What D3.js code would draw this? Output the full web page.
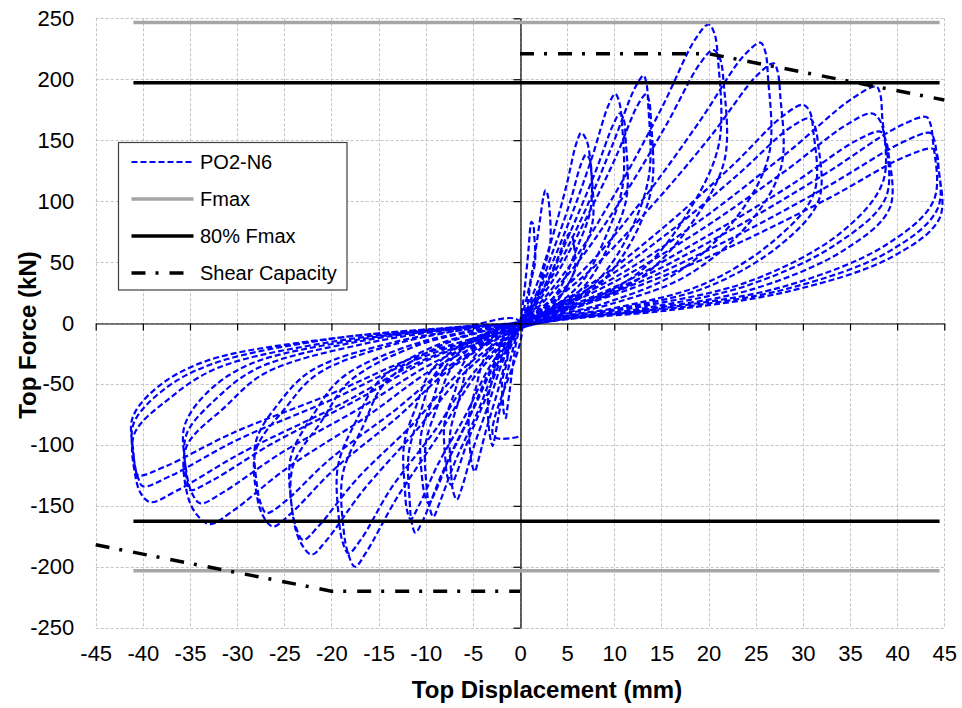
<!DOCTYPE html>
<html>
<head>
<meta charset="utf-8">
<script src="https://cdn.jsdelivr.net/npm/d3@7"></script>
<style>
  body { margin: 0; background: #fff; }
  svg { display: block; font-family: "Liberation Sans", Arial, sans-serif; }
</style>
</head>
<body>
<div id="chart"></div>
<script>
// tick values
var xTicks = [-45, -40, -35, -30, -25, -20, -15, -10, -5, 0, 5, 10, 15, 20, 25, 30, 35, 40, 45];
var yTicks = [-250, -200, -150, -100, -50, 0, 50, 100, 150, 200, 250];

// reference levels (kN) and the displacement range they are drawn over (mm)
var fmaxLevels = [246.5, -203.3];
var fmax80Levels = [197.2, -162.6];
var levelRange = [-41, 44.5];

// shear capacity envelope
var shearPos = [[0, 221], [20, 221], [45, 183]];
var shearNeg = [[-45, -182], [-20, -220], [0, -220]];

// PO2-N6 cyclic test, [displacement mm, force kN], one cycle per row
var cycles = [
  [[0.3,15],[0.6,36],[0.9,60],[1.1,79],[1.2,83],[1.4,81],[1.5,73],[1.6,50],[1.1,32],[0.8,15],[0.4,6],[0.1,0],[-0.4,-16],[-0.8,-37],[-1.1,-56],[-1.4,-73],[-1.5,-78],[-1.7,-74],[-1.8,-66],[-1.9,-48],[-1.4,-33],[-1.2,-20],[-0.8,-8],[-0.2,-2],[0,1]],
  [[0.7,20],[1.4,47],[2.0,78],[2.5,104],[2.7,109],[2.9,106],[3.1,96],[3.2,65],[2.4,41],[1.8,20],[0.9,8],[0.1,0],[-0.7,-20],[-1.5,-47],[-2.2,-73],[-2.7,-95],[-2.9,-101],[-3.1,-96],[-3.3,-86],[-3.4,-63],[-2.8,-42],[-2.4,-25],[-1.5,-10],[-0.4,-2],[0,1]],
  [[1.3,13],[2.7,32],[4.0,53],[4.9,70],[5.3,74],[5.5,72],[5.7,65],[5.8,44],[4.8,28],[3.4,13],[1.9,5],[0.3,0],[-1.2,-24],[-2.4,-57],[-3.6,-88],[-4.5,-115],[-4.8,-122],[-5.1,-116],[-5.3,-104],[-5.4,-76],[-4.6,-51],[-3.9,-31],[-2.4,-12],[-0.7,-2],[0,1]],
  [[1.6,28],[3.3,67],[4.9,112],[6.0,148],[6.5,156],[7.0,151],[7.4,137],[7.5,94],[5.9,59],[4.2,28],[2.3,11],[0.3,0],[-1.7,-29],[-3.4,-68],[-5.0,-104],[-6.2,-136],[-6.7,-145],[-7.1,-138],[-7.3,-123],[-7.4,-90],[-6.4,-61],[-5.5,-36],[-3.4,-15],[-1.0,-3],[0,1]],
  [[1.8,25],[3.5,59],[5.3,99],[6.5,131],[7.0,138],[7.4,134],[7.6,121],[7.7,83],[6.3,52],[4.6,25],[2.5,10],[0.4,0],[-1.8,-27],[-3.7,-63],[-5.5,-96],[-6.8,-125],[-7.3,-133],[-7.7,-126],[-7.9,-113],[-8.0,-82],[-6.9,-56],[-6.0,-33],[-3.7,-13],[-1.1,-3],[0,1]],
  [[2.5,34],[5.1,81],[7.6,135],[9.4,179],[10.1,188],[10.5,182],[10.8,165],[10.9,113],[9.1,71],[6.6,34],[3.5,13],[0.5,0],[-2.3,-32],[-4.6,-75],[-6.9,-114],[-8.6,-149],[-9.2,-159],[-9.6,-151],[-9.9,-135],[-10.0,-99],[-8.7,-67],[-7.5,-40],[-4.6,-16],[-1.4,-3],[0,1]],
  [[2.7,31],[5.3,74],[8.0,124],[9.9,163],[10.6,172],[11.0,167],[11.2,151],[11.3,103],[9.5,65],[6.9,31],[3.7,12],[0.5,0],[-2.4,-30],[-4.9,-70],[-7.3,-107],[-9.0,-139],[-9.7,-148],[-10.1,-141],[-10.4,-126],[-10.5,-92],[-9.2,-62],[-8.0,-37],[-4.9,-15],[-1.5,-3],[0,1]],
  [[3.3,37],[6.6,87],[9.8,146],[12.2,193],[13.1,203],[13.4,197],[13.6,179],[13.7,122],[11.8,77],[8.5,37],[4.6,14],[0.7,0],[-2.8,-34],[-5.6,-81],[-8.3,-124],[-10.3,-162],[-11.1,-172],[-11.5,-163],[-11.7,-146],[-11.8,-107],[-10.5,-72],[-9.1,-43],[-5.6,-17],[-1.7,-3],[0,1]],
  [[3.4,34],[6.7,81],[10.1,135],[12.5,179],[13.4,188],[13.7,182],[13.9,165],[14.0,113],[12.1,71],[8.7,34],[4.7,13],[0.7,0],[-2.9,-32],[-5.8,-76],[-8.7,-116],[-10.8,-151],[-11.6,-161],[-12.0,-153],[-12.2,-137],[-12.3,-100],[-11.0,-68],[-9.5,-40],[-5.8,-16],[-1.7,-3],[0,1]],
  [[5.0,44],[10.0,105],[15.0,176],[18.6,233],[20.0,245],[20.6,238],[21.0,216],[21.1,147],[18.0,93],[13.0,44],[7.0,17],[1.0,0],[-4.4,-40],[-8.8,-94],[-13.1,-144],[-16.3,-188],[-17.5,-200],[-18.2,-190],[-18.7,-170],[-18.8,-124],[-16.6,-84],[-14.4,-50],[-8.8,-20],[-2.6,-4],[0,1]],
  [[5.1,40],[10.3,96],[15.4,161],[19.1,213],[20.5,224],[21.2,217],[21.6,197],[21.7,134],[18.5,85],[13.3,40],[7.2,16],[1.0,0],[-4.6,-38],[-9.1,-89],[-13.7,-136],[-16.9,-178],[-18.2,-189],[-18.8,-180],[-19.2,-161],[-19.3,-117],[-17.3,-79],[-14.9,-47],[-9.1,-19],[-2.7,-4],[0,1]],
  [[6.4,41],[12.8,99],[19.1,166],[23.7,219],[25.5,230],[26.0,223],[26.3,202],[26.4,138],[23.0,87],[16.6,41],[8.9,16],[1.3,0],[-5.5,-38],[-11.1,-89],[-16.6,-137],[-20.6,-179],[-22.1,-190],[-23.2,-181],[-24.0,-162],[-24.1,-118],[-21.0,-80],[-18.1,-48],[-11.1,-19],[-3.3,-4],[0,1]],
  [[6.7,38],[13.5,92],[20.2,153],[25.0,202],[26.9,213],[27.3,207],[27.6,187],[27.7,128],[24.2,81],[17.5,38],[9.4,15],[1.3,0],[-5.8,-36],[-11.5,-84],[-17.3,-128],[-21.4,-167],[-23.0,-178],[-23.7,-169],[-24.2,-151],[-24.3,-110],[-21.9,-75],[-18.9,-45],[-11.5,-18],[-3.5,-4],[0,1]],
  [[7.5,32],[15.0,77],[22.5,129],[27.9,170],[30.0,179],[30.7,174],[31.1,158],[31.2,107],[27.0,68],[19.5,32],[10.5,13],[1.5,0],[-6.6,-33],[-13.1,-78],[-19.7,-120],[-24.4,-157],[-26.2,-167],[-27.2,-159],[-27.9,-142],[-28.0,-104],[-24.9,-70],[-21.5,-42],[-13.1,-17],[-3.9,-3],[0,1]],
  [[7.7,30],[15.4,72],[23.0,121],[28.6,160],[30.7,168],[31.2,163],[31.6,148],[31.7,101],[27.6,64],[20.0,30],[10.7,12],[1.5,0],[-6.7,-31],[-13.5,-73],[-20.2,-112],[-25.0,-147],[-26.9,-156],[-27.5,-148],[-27.9,-133],[-28.0,-97],[-25.6,-66],[-22.1,-39],[-13.5,-16],[-4.0,-3],[0,1]],
  [[9.5,35],[18.9,83],[28.4,140],[35.2,184],[37.8,194],[38.2,188],[38.4,171],[38.5,116],[34.0,74],[24.6,35],[13.2,14],[1.9,0],[-8.2,-33],[-16.5,-78],[-24.7,-119],[-30.6,-155],[-32.9,-165],[-34.3,-157],[-35.3,-140],[-35.4,-102],[-31.3,-69],[-27.0,-41],[-16.5,-17],[-4.9,-3],[0,1]],
  [[9.3,31],[18.7,74],[28.0,124],[34.7,163],[37.3,172],[38.1,167],[38.7,151],[38.8,103],[33.6,65],[24.2,31],[13.1,12],[1.9,0],[-8.5,-30],[-17.0,-70],[-25.4,-107],[-31.5,-139],[-33.9,-148],[-34.7,-141],[-35.3,-126],[-35.4,-92],[-32.2,-62],[-27.8,-37],[-17.0,-15],[-5.1,-3],[0,1]],
  [[9.6,28],[19.1,68],[28.7,113],[35.5,149],[38.2,157],[38.7,152],[39.1,138],[39.2,94],[34.4,60],[24.8,28],[13.4,11],[1.9,0],[-8.8,-27],[-17.5,-64],[-26.3,-99],[-32.6,-129],[-35.0,-137],[-35.3,-130],[-35.5,-116],[-35.6,-85],[-33.3,-58],[-28.7,-34],[-17.5,-14],[-5.3,-3],[0,1]],
  [[10.8,30],[21.6,73],[32.3,122],[40.1,161],[43.1,169],[43.5,164],[43.8,149],[43.9,101],[38.8,64],[28.0,30],[15.1,12],[2.2,0],[-9.8,-29],[-19.6,-69],[-29.4,-106],[-36.5,-138],[-39.2,-147],[-40.2,-140],[-40.8,-125],[-40.9,-91],[-37.2,-62],[-32.1,-37],[-19.6,-15],[-5.9,-3],[0,1]],
  [[10.9,28],[21.8,67],[32.6,112],[40.5,148],[43.5,156],[43.9,151],[44.2,137],[44.3,94],[39.2,59],[28.3,28],[15.2,11],[2.2,0],[-10.0,-27],[-20.0,-63],[-30.0,-96],[-37.2,-126],[-40.0,-134],[-40.5,-127],[-40.9,-114],[-41.0,-83],[-38.0,-56],[-32.8,-34],[-20.0,-13],[-6.0,-3],[0,1]],
  [[11.0,26],[21.9,61],[32.9,103],[40.7,136],[43.8,143],[44.2,139],[44.4,126],[44.5,86],[39.4,54],[28.5,26],[15.3,10],[2.2,0],[-10.1,-25],[-20.3,-59],[-30.4,-90],[-37.7,-118],[-40.5,-125],[-40.8,-119],[-41.0,-106],[-41.1,-78],[-38.5,-53],[-33.2,-31],[-20.3,-13],[-6.1,-3],[0,1]]
];
var testStart = [[0, 0]];
var testEnd = [[-2.8, -93], [0, -93]];

var legendItems = [
  { label: 'PO2-N6', color: '#0000ff', width: 2.2, dash: '6,3' },
  { label: 'Fmax', color: '#a6a6a6', width: 3.5, dash: null },
  { label: '80% Fmax', color: '#000000', width: 3.5, dash: null },
  { label: 'Shear Capacity', color: '#000000', width: 3.5, dash: '14,10,3,11' }
];

var width = 962, height = 708;
var plot = { left: 95.7, right: 944.3, top: 18.3, bottom: 627.7 };

var x = d3.scaleLinear().domain([-45, 45]).range([plot.left, plot.right]);
var y = d3.scaleLinear().domain([-250, 250]).range([plot.bottom, plot.top]);

function crisp(v) { return Math.round(v) + 0.5; }
// plain hyphen for negatives, as in the original
function plainNumber(d) { return String(d); }

var svg = d3.select('#chart')
    .append('svg')
    .attr('width', width)
    .attr('height', height);

// grid
var grid = svg.append('g').attr('class', 'grid');
grid.selectAll('line.vx')
    .data(xTicks)
    .enter()
    .append('line')
    .attr('x1', function(d) { return crisp(x(d)); })
    .attr('x2', function(d) { return crisp(x(d)); })
    .attr('y1', plot.top)
    .attr('y2', plot.bottom)
    .attr('stroke', '#c4c4c4')
    .attr('stroke-dasharray', '3,2');
grid.selectAll('line.hy')
    .data(yTicks)
    .enter()
    .append('line')
    .attr('x1', plot.left)
    .attr('x2', plot.right)
    .attr('y1', function(d) { return crisp(y(d)); })
    .attr('y2', function(d) { return crisp(y(d)); })
    .attr('stroke', '#c4c4c4')
    .attr('stroke-dasharray', '3,2');

// test curve
var testData = testStart.concat(d3.merge(cycles), testEnd);
var line = d3.line()
    .x(function(d) { return x(d[0]); })
    .y(function(d) { return y(d[1]); })
    .curve(d3.curveCatmullRom.alpha(0.5));

svg.append('path')
    .datum(testData)
    .attr('d', line)
    .attr('fill', 'none')
    .attr('stroke', legendItems[0].color)
    .attr('stroke-width', legendItems[0].width)
    .attr('stroke-dasharray', legendItems[0].dash);

// axes through the origin
var xAxis = d3.axisBottom(x).tickValues(xTicks).tickSizeInner(7).tickSizeOuter(0).tickFormat('');
var yAxis = d3.axisLeft(y).tickValues(yTicks).tickSizeInner(7).tickSizeOuter(0).tickFormat('');

svg.append('g')
    .attr('transform', 'translate(0,' + crisp(y(0)) + ')')
    .call(xAxis);
svg.append('g')
    .attr('transform', 'translate(' + crisp(x(0)) + ',0)')
    .call(yAxis);
svg.selectAll('.domain, .tick line').attr('stroke', '#000').attr('stroke-width', 1.2);

// reference lines
var straight = d3.line()
    .x(function(d) { return x(d[0]); })
    .y(function(d) { return y(d[1]); });

fmaxLevels.forEach(function(v) {
  svg.append('path')
      .datum([[levelRange[0], v], [levelRange[1], v]])
      .attr('d', straight)
      .attr('stroke', legendItems[1].color)
      .attr('stroke-width', legendItems[1].width);
});
fmax80Levels.forEach(function(v) {
  svg.append('path')
      .datum([[levelRange[0], v], [levelRange[1], v]])
      .attr('d', straight)
      .attr('stroke', legendItems[2].color)
      .attr('stroke-width', legendItems[2].width);
});
[shearPos, shearNeg].forEach(function(s) {
  svg.append('path')
      .datum(s)
      .attr('d', straight)
      .attr('fill', 'none')
      .attr('stroke', legendItems[3].color)
      .attr('stroke-width', legendItems[3].width)
      .attr('stroke-dasharray', legendItems[3].dash);
});

// tick labels
var xLabels = svg.append('g')
    .attr('transform', 'translate(0,' + plot.bottom + ')')
    .call(d3.axisBottom(x).tickValues(xTicks).tickSize(0).tickPadding(18).tickFormat(plainNumber));
var yLabels = svg.append('g')
    .attr('transform', 'translate(' + plot.left + ',0)')
    .call(d3.axisLeft(y).tickValues(yTicks).tickSize(0).tickPadding(21.5).tickFormat(plainNumber));
[xLabels, yLabels].forEach(function(g) {
  g.select('.domain').remove();
  g.selectAll('text')
      .style('font-family', '"Liberation Sans", Arial, sans-serif')
      .style('font-size', '22px')
      .attr('fill', '#000');
});

// axis titles
svg.append('text')
    .attr('x', 547)
    .attr('y', 698)
    .attr('text-anchor', 'middle')
    .style('font-size', '24px')
    .style('font-weight', 700)
    .text('Top Displacement (mm)');

svg.append('text')
    .attr('transform', 'translate(36,335) rotate(-90)')
    .attr('text-anchor', 'middle')
    .style('font-size', '24px')
    .style('font-weight', 700)
    .text('Top Force (kN)');

// legend
var legend = svg.append('g').attr('transform', 'translate(118.5,142.5)');
legend.append('rect')
    .attr('width', 228.5)
    .attr('height', 147.5)
    .attr('fill', '#fff')
    .attr('stroke', '#404040')
    .attr('stroke-width', 1.2);

var rows = legend.selectAll('g.item')
    .data(legendItems)
    .enter()
    .append('g')
    .attr('transform', function(d, i) { return 'translate(0,' + (19.5 + i * 37) + ')'; });
rows.append('line')
    .attr('x1', 13)
    .attr('x2', 75)
    .attr('stroke', function(d) { return d.color; })
    .attr('stroke-width', function(d) { return d.width; })
    .attr('stroke-dasharray', function(d) { return d.dash; });
rows.append('text')
    .attr('x', 81.5)
    .attr('dy', '0.35em')
    .style('font-size', '20px')
    .text(function(d) { return d.label; });
</script>
</body>
</html>
